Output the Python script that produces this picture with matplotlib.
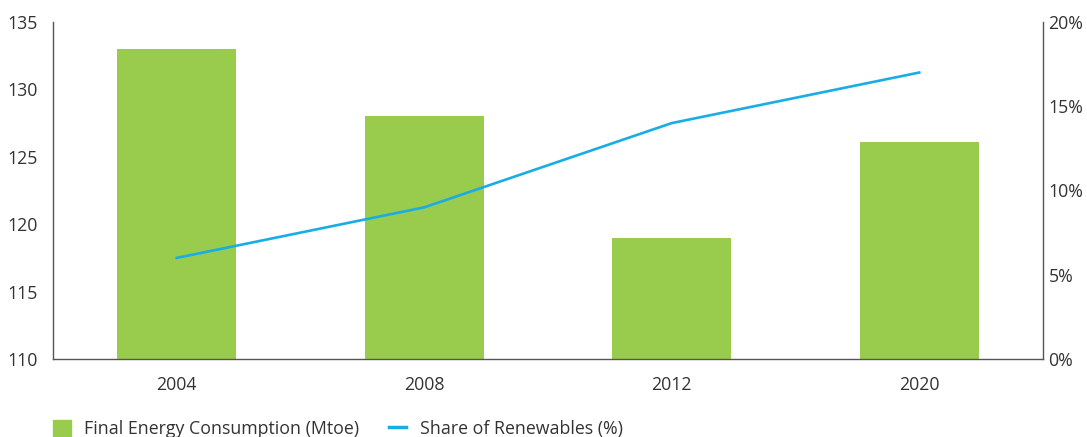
import matplotlib.pyplot as plt
from matplotlib.lines import Line2D
from matplotlib.patches import Patch

years = ["2004", "2008", "2012", "2020"]
consumption = [133, 128, 119, 126.1]  # Mtoe
renewables = [6, 9, 14, 17]  # %

GREEN = "#99cc4c"
BLUE = "#19ade6"
TEXT = "#333333"
SPINE = "#555555"

plt.rcParams['font.family'] = ['Open Sans', 'DejaVu Sans']
plt.rcParams['font.size'] = 12.8

fig = plt.figure(figsize=(10.87, 4.37), dpi=100)
ax = fig.add_axes([0.0488, 0.1785, 0.9107, 0.7712])
x = range(len(years))
ax.bar(x, consumption, width=0.48, color=GREEN, zorder=2)
ax.set_ylim(110, 135)
ax.set_xlim(-0.5, 3.5)
ax.set_xticks(list(x))
ax.set_xticklabels(years)
ax.set_yticks([110, 115, 120, 125, 130, 135])

ax2 = ax.twinx()
ax2.plot(list(x), renewables, color=BLUE, lw=1.9, zorder=3)
ax2.set_ylim(0, 20)
ax2.set_yticks([0, 5, 10, 15, 20])
ax2.set_yticklabels([f"{v}%" for v in [0, 5, 10, 15, 20]])

for a in (ax, ax2):
    a.spines['top'].set_visible(False)
    for s in ('left', 'right', 'bottom'):
        a.spines[s].set_color(SPINE)
        a.spines[s].set_linewidth(1.0)
    a.tick_params(length=0, colors=TEXT, labelsize=12.8)
ax.tick_params(axis='y', pad=11)
ax.tick_params(axis='x', pad=12)
ax2.tick_params(axis='y', pad=4)
ax2.spines['left'].set_visible(False)
ax2.spines['bottom'].set_visible(False)
ax.spines['right'].set_visible(False)

handles = [Patch(color=GREEN), Line2D([0], [0], color=BLUE, lw=2.5)]
labels = ["Final Energy Consumption (Mtoe)", "Share of Renewables (%)"]
fig.legend(handles, labels, loc='lower left', bbox_to_anchor=(0.034, -0.04),
           ncol=2, frameon=False, handlelength=1.0, handleheight=1.1,
           columnspacing=1.65, handletextpad=0.75, labelcolor=TEXT, fontsize=12.8)

fig.savefig("out.png", dpi=100)
